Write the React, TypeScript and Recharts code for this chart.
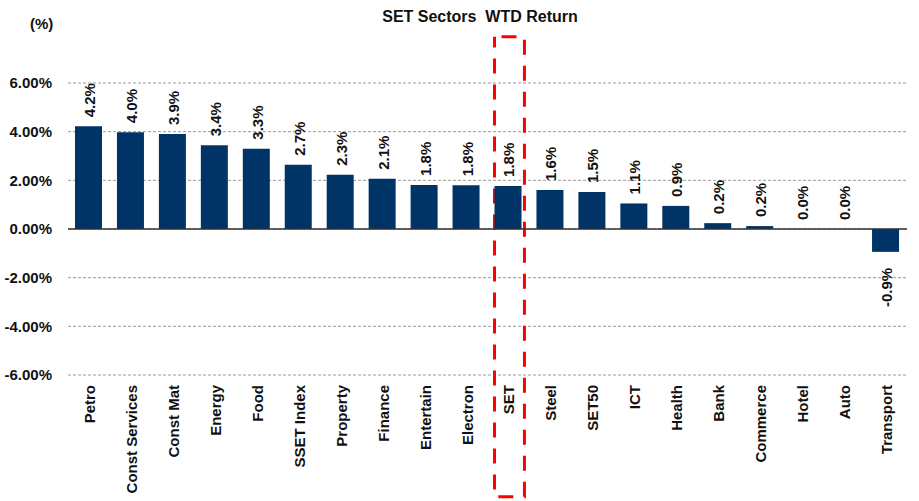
import { ComposedChart, Bar, Line, XAxis, YAxis, CartesianGrid, ReferenceLine, ReferenceArea } from 'recharts';

const categories = [
  'Petro', 'Const Services', 'Const Mat', 'Energy', 'Food', 'SSET Index', 'Property',
  'Finance', 'Entertain', 'Electron', 'SET', 'Steel', 'SET50', 'ICT', 'Health',
  'Bank', 'Commerce', 'Hotel', 'Auto', 'Transport',
];
const returns = [
  4.22, 3.98, 3.9, 3.44, 3.3, 2.64, 2.23, 2.06, 1.81, 1.8, 1.77, 1.6, 1.52,
  1.05, 0.95, 0.24, 0.12, 0, 0, -0.94,
];
const valueLabels = [
  '4.2%', '4.0%', '3.9%', '3.4%', '3.3%', '2.7%', '2.3%', '2.1%', '1.8%', '1.8%',
  '1.8%', '1.6%', '1.5%', '1.1%', '0.9%', '0.2%', '0.2%', '0.0%', '0.0%', '-0.9%',
];
const yTicks = [-6, -4, -2, 0, 2, 4, 6];
const highlighted = 'SET';

const data = categories.map((name, i) => ({ name, value: returns[i], label: valueLabels[i] }));

const FONT = '"Liberation Sans", Arial, sans-serif';

const CategoryTick = (props: any) => {
  const { x, y, payload } = props;
  return (
    <text
      transform={`translate(${x + 6},${y}) rotate(-90)`}
      textAnchor="end"
      fontFamily={FONT}
      fontWeight="bold"
      fontSize={15}
      fill="#111"
    >
      {payload.value}
    </text>
  );
};

// labels sit on the bar end: above positive bars, below negative ones
const ValueLabel = (props: any) => {
  const { x, y, index } = props;
  if (x == null || y == null) return null;
  const negative = data[index].value < 0;
  const ly = negative ? y + 16 : y - 9;
  return (
    <text
      transform={`translate(${x + 6},${ly}) rotate(-90)`}
      textAnchor={negative ? 'end' : 'start'}
      fontFamily={FONT}
      fontWeight="bold"
      fontSize={15}
      fill="#111"
    >
      {data[index].label}
    </text>
  );
};

const HighlightBox = (props: any) => {
  const { x, y, width, height } = props;
  return (
    <rect
      x={x + 7}
      y={y}
      width={width - 12}
      height={height}
      fill="none"
      stroke="#ff0000"
      strokeWidth={3}
      strokeDasharray="15 11"
      strokeDashoffset={19}
    />
  );
};

export default function App() {
  return (
    <div style={{ position: 'absolute', left: 0, top: 0, width: 919, height: 501, background: '#fff', fontFamily: FONT }}>
      <div
        style={{
          position: 'absolute', left: 280, top: 9, width: 400, textAlign: 'center',
          fontSize: 16, lineHeight: '16px', fontWeight: 'bold', color: '#111', whiteSpace: 'pre',
        }}
      >
        {'SET Sectors  WTD Return'}
      </div>
      <div
        style={{
          position: 'absolute', left: 30, top: 16, fontSize: 15, lineHeight: '15px',
          fontWeight: 'bold', color: '#111',
        }}
      >
        (%)
      </div>
      <ComposedChart
        width={919}
        height={501}
        data={data}
        margin={{ top: 83, right: 12, left: 0, bottom: 0 }}
      >
        <CartesianGrid vertical={false} stroke="#9a9a9a" strokeDasharray="3 2" />
        <XAxis
          dataKey="name"
          interval={0}
          height={126}
          axisLine={false}
          tickLine={false}
          tickSize={0}
          tickMargin={10}
          tick={<CategoryTick />}
        />
        <YAxis
          domain={[-6, 6]}
          ticks={yTicks}
          width={68}
          axisLine={false}
          tickLine={false}
          tickSize={0}
          tickMargin={16}
          tickFormatter={(v: number) => `${v.toFixed(2)}%`}
          tick={{ fontFamily: FONT, fontWeight: 'bold', fontSize: 15, fill: '#111' }}
        />
        <ReferenceLine y={0} stroke="#333" strokeWidth={1.5} />
        <Bar dataKey="value" fill="#003366" barSize={27} isAnimationActive={false} />
        <Line
          dataKey="value"
          stroke="none"
          dot={false}
          activeDot={false}
          isAnimationActive={false}
          label={<ValueLabel />}
        />
        <ReferenceArea
          x1={highlighted}
          x2={highlighted}
          y1={-11}
          y2={7.9}
          ifOverflow="visible"
          shape={<HighlightBox />}
        />
      </ComposedChart>
    </div>
  );
}
